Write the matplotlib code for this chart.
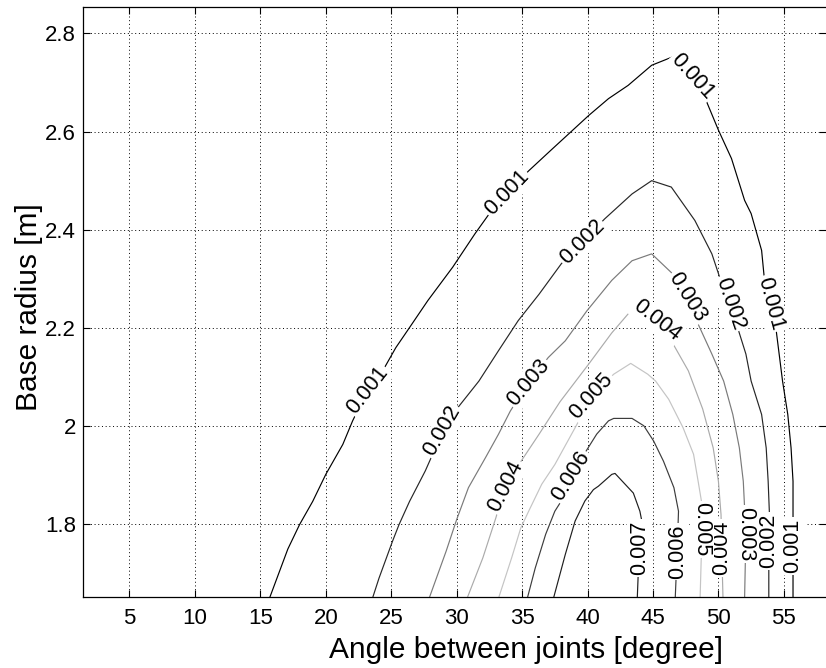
import matplotlib
matplotlib.use('Agg')
import matplotlib.pyplot as plt

plt.rcParams['font.family'] = ['Liberation Sans', 'DejaVu Sans']

# contour lines: angle [degree], base radius [m]
levels = ['0.001', '0.002', '0.003', '0.004', '0.005', '0.006', '0.007']

angle_001 = [15.7, 17.1, 18.0, 19.0, 20.0, 21.3, 22.05, 23.2, 24.5, 25.35, 26.4, 27.8, 29.7, 31.4,
             32.5, 33.85, 35.5, 37.2, 40.1, 41.6, 43.1, 44.9, 46.4, 46.9, 48.0, 49.0, 50.0, 51.0,
             52.0, 52.5, 53.3, 53.5, 54.0, 54.4, 54.9, 55.3, 55.55, 55.7, 55.7, 55.7, 55.7]
radius_001 = [1.65, 1.75, 1.80, 1.847, 1.902, 1.963, 2.011, 2.074, 2.12, 2.16, 2.201, 2.256, 2.324, 2.392,
              2.433, 2.475, 2.52, 2.562, 2.633, 2.667, 2.694, 2.735, 2.751, 2.754, 2.712, 2.667, 2.603, 2.545,
              2.46, 2.433, 2.358, 2.303, 2.25, 2.198, 2.092, 2.024, 1.956, 1.888, 1.807, 1.756, 1.65]

angle_002 = [23.57, 24.07, 25.1, 25.6, 26.4, 27.6, 28.1, 28.9, 30.0, 31.7, 33.2, 34.7, 36.3, 38.0,
             39.6, 41.3, 43.4, 44.9, 46.4, 48.2, 49.5, 50.1, 50.9, 51.5, 52.1, 52.5, 53.3, 53.65,
             53.8, 53.9, 53.85, 53.85]
radius_002 = [1.65, 1.691, 1.766, 1.80, 1.847, 1.909, 1.939, 1.99, 2.035, 2.092, 2.154, 2.215, 2.269, 2.331,
              2.375, 2.422, 2.473, 2.50, 2.487, 2.419, 2.351, 2.303, 2.25, 2.198, 2.147, 2.092, 2.024, 1.956,
              1.888, 1.82, 1.766, 1.65]

angle_003 = [27.9, 29.2, 30.0, 30.9, 32.2, 33.2, 34.1, 35.5, 37.0, 38.3, 39.95, 41.85, 43.4, 44.9,
             46.4, 47.6, 48.45, 49.5, 50.4, 51.1, 51.6, 51.9, 52.0, 52.1, 52.0]
radius_003 = [1.65, 1.746, 1.81, 1.875, 1.936, 1.984, 2.031, 2.089, 2.14, 2.174, 2.235, 2.297, 2.337, 2.351,
              2.313, 2.262, 2.208, 2.147, 2.092, 2.024, 1.956, 1.888, 1.834, 1.78, 1.65]

angle_004 = [30.8, 32.0, 33.0, 33.7, 34.75, 36.3, 37.9, 40.1, 41.85, 43.4, 44.2, 45.3, 46.4, 47.7,
             48.8, 49.6, 50.0, 50.2, 50.25, 50.35]
radius_004 = [1.65, 1.732, 1.814, 1.878, 1.922, 1.984, 2.05, 2.127, 2.19, 2.238, 2.245, 2.215, 2.174, 2.113,
              2.035, 1.956, 1.888, 1.82, 1.752, 1.65]

angle_005 = [33.2, 34.2, 34.9, 35.5, 36.5, 37.5, 39.05, 39.6, 40.3, 42.0, 43.3, 44.6, 45.2, 46.2,
             47.3, 48.1, 48.45, 48.7, 48.75, 48.6]
radius_005 = [1.65, 1.732, 1.793, 1.827, 1.882, 1.922, 1.997, 2.024, 2.062, 2.106, 2.128, 2.106, 2.092, 2.055,
              1.997, 1.943, 1.888, 1.848, 1.79, 1.65]

angle_006 = [35.4, 36.0, 36.8, 37.5, 38.0, 38.7, 39.9, 40.7, 41.6, 42.0, 43.4, 44.3, 45.05, 45.8,
             46.6, 46.95, 46.85, 46.7]
radius_006 = [1.65, 1.711, 1.78, 1.827, 1.848, 1.899, 1.95, 1.984, 2.011, 2.016, 2.016, 2.001, 1.970, 1.929,
              1.875, 1.827, 1.745, 1.65]

angle_007 = [37.4, 38.3, 39.05, 39.8, 40.45, 40.83, 41.85, 42.1, 43.5, 44.0, 44.2, 43.95, 43.8]
radius_007 = [1.65, 1.739, 1.807, 1.848, 1.871, 1.878, 1.902, 1.904, 1.864, 1.827, 1.80, 1.752, 1.65]

angles = [angle_001, angle_002, angle_003, angle_004, angle_005, angle_006, angle_007]
radii = [radius_001, radius_002, radius_003, radius_004, radius_005, radius_006, radius_007]

# grey shades of the printed contour lines
shades = ['#000000', '#262626', '#7a7a7a', '#ababab', '#c4c4c4', '#3c3c3c', '#1e1e1e']

# where the contour labels sit: (level index, angle, radius, rotation)
label_spots = [
    (0, 23.2, 2.074, 52), (0, 33.85, 2.475, 46), (0, 48.0, 2.712, -48), (0, 54.0, 2.25, -75), (0, 55.7, 1.756, 90),
    (1, 28.9, 1.99, 60), (1, 39.6, 2.375, 45), (1, 50.9, 2.25, -71), (1, 53.85, 1.766, 90),
    (2, 35.5, 2.089, 50), (2, 47.6, 2.262, -58), (2, 52.1, 1.78, -90),
    (3, 33.7, 1.878, 63), (3, 45.3, 2.215, -38), (3, 50.25, 1.752, 90),
    (4, 40.3, 2.062, 48), (4, 48.75, 1.79, -90),
    (5, 38.7, 1.899, 58), (5, 46.85, 1.745, 90),
    (6, 43.95, 1.752, 90),
]

fig = plt.figure(figsize=(8.26, 6.68), dpi=100)
ax = fig.add_axes([83 / 826, 1 - 596.7 / 668, 1 - 83 / 826, (596.7 - 7.3) / 668])

for xs, ys, c in zip(angles, radii, shades):
    ax.plot(xs, ys, color=c, lw=0.85, zorder=2)

for i, x, y, rot in label_spots:
    ax.text(x, y, levels[i], rotation=rot, rotation_mode='anchor', ha='center', va='center',
            fontsize=15.5, zorder=4,
            bbox=dict(boxstyle='square,pad=0.08', fc='white', ec='none'))

ax.set_xlim(1.45, 58.22)
ax.set_ylim(1.653, 2.853)
ax.set_xticks([5, 10, 15, 20, 25, 30, 35, 40, 45, 50, 55])
ax.set_yticks([1.8, 2.0, 2.2, 2.4, 2.6, 2.8])
ax.set_yticklabels(['1.8', '2', '2.2', '2.4', '2.6', '2.8'])
ax.grid(True, color='black', lw=0.7, linestyle=(0, (1, 2.8)))
ax.set_axisbelow(True)
ax.tick_params(direction='in', length=5, width=0.8, top=True, right=True, labelsize=16)
ax.tick_params(axis='x', pad=8)
ax.tick_params(axis='y', pad=5)
for s in ax.spines.values():
    s.set_linewidth(0.9)
ax.spines['right'].set_visible(False)

ax.set_xlabel('Angle between joints [degree]', fontsize=21.5)
ax.set_ylabel('Base radius [m]', fontsize=21.5)
ax.xaxis.set_label_coords((526 - 83) / 743, -39 / 589.4)
ax.yaxis.set_label_coords(-40 / 743, (596.7 - 307.5) / 589.4)

fig.savefig('out.png', dpi=100)
